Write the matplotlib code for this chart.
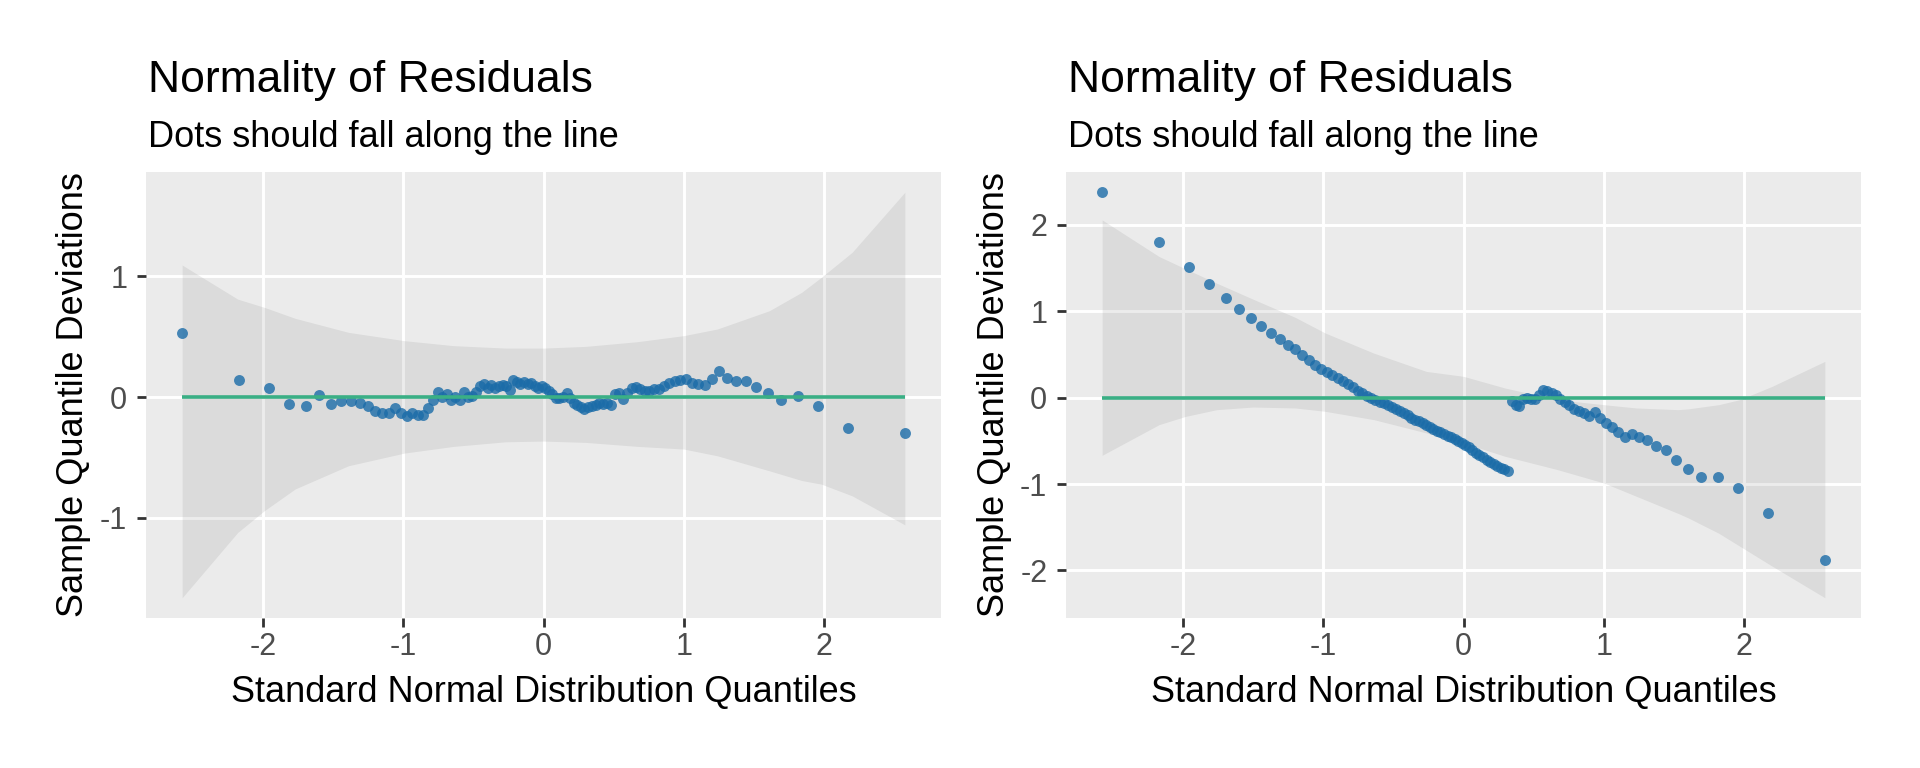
import matplotlib
matplotlib.use('Agg')
import matplotlib.pyplot as plt
from matplotlib.ticker import MultipleLocator

plt.rcParams['font.family'] = ['Liberation Sans', 'DejaVu Sans']
plt.rcParams['axes.unicode_minus'] = False

#-------------------------------------------------------------------------------
#DATA

#theoretical normal quantiles of the 100 residuals (same for both panels)
xq = [-2.576, -2.170, -1.960, -1.812, -1.695, -1.598, -1.514, -1.440, -1.372, -1.311,
      -1.254, -1.200, -1.150, -1.103, -1.058, -1.015, -0.974, -0.935, -0.896, -0.860,
      -0.824, -0.789, -0.755, -0.722, -0.690, -0.659, -0.628, -0.598, -0.568, -0.539,
      -0.510, -0.482, -0.454, -0.426, -0.399, -0.372, -0.345, -0.319, -0.292, -0.266,
      -0.240, -0.215, -0.189, -0.164, -0.138, -0.113, -0.088, -0.063, -0.038, -0.013,
      0.013, 0.038, 0.063, 0.088, 0.113, 0.138, 0.164, 0.189, 0.215, 0.240,
      0.266, 0.292, 0.319, 0.345, 0.372, 0.399, 0.426, 0.454, 0.482, 0.510,
      0.539, 0.568, 0.598, 0.628, 0.659, 0.690, 0.722, 0.755, 0.789, 0.824,
      0.860, 0.896, 0.935, 0.974, 1.015, 1.058, 1.103, 1.150, 1.200, 1.254,
      1.311, 1.372, 1.440, 1.514, 1.598, 1.695, 1.812, 1.960, 2.170, 2.576]

#sample quantile deviations, left model
dev_left = [0.527, 0.138, 0.072, -0.061, -0.072, 0.014, -0.058, -0.033, -0.033, -0.047,
            -0.072, -0.119, -0.135, -0.135, -0.094, -0.135, -0.160, -0.135, -0.149, -0.149,
            -0.094, -0.022, 0.039, 0.003, 0.025, -0.022, 0.003, -0.022, 0.039, 0.003,
            0.011, 0.039, 0.088, 0.108, 0.072, 0.099, 0.072, 0.094, 0.099, 0.088,
            0.061, 0.141, 0.127, 0.105, 0.127, 0.110, 0.113, 0.094, 0.077, 0.094,
            0.072, 0.052, 0.025, -0.006, -0.011, 0.003, 0.030, -0.011, -0.047, -0.066,
            -0.086, -0.099, -0.086, -0.077, -0.063, -0.052, -0.058, -0.050, -0.066, 0.025,
            0.030, -0.017, 0.033, 0.072, 0.083, 0.066, 0.052, 0.052, 0.066, 0.066,
            0.088, 0.113, 0.130, 0.141, 0.146, 0.116, 0.105, 0.097, 0.149, 0.218,
            0.154, 0.132, 0.130, 0.080, 0.033, -0.028, 0.011, -0.077, -0.259, -0.301]

#sample quantile deviations, right model
dev_right = [2.378, 1.800, 1.518, 1.314, 1.156, 1.025, 0.917, 0.829, 0.748, 0.678,
             0.613, 0.563, 0.497, 0.439, 0.382, 0.331, 0.297, 0.262, 0.227, 0.189,
             0.154, 0.119, 0.081, 0.050, 0.015, -0.005, -0.026, -0.046, -0.066, -0.085,
             -0.104, -0.126, -0.152, -0.179, -0.205, -0.230, -0.253, -0.275, -0.297, -0.318,
             -0.340, -0.360, -0.381, -0.401, -0.423, -0.441, -0.459, -0.477, -0.499, -0.522,
             -0.546, -0.576, -0.606, -0.636, -0.666, -0.692, -0.718, -0.744, -0.768, -0.789,
             -0.810, -0.831, -0.853, -0.040, -0.080, -0.100, -0.010, 0.000, -0.020, -0.010,
             0.030, 0.085, 0.080, 0.050, 0.030, -0.010, -0.050, -0.085, -0.130, -0.155,
             -0.180, -0.215, -0.170, -0.235, -0.290, -0.345, -0.400, -0.455, -0.420, -0.450,
             -0.495, -0.555, -0.600, -0.720, -0.825, -0.920, -0.920, -1.045, -1.335, -1.885]

#confidence band, left model
band_x_left = [-2.576, -2.18, -1.99, -1.77, -1.39, -0.99, -0.64, -0.27, 0.0, 0.30,
               0.67, 1.0, 1.24, 1.61, 1.84, 1.98, 2.20, 2.576]
band_hi_left = [1.092, 0.810, 0.742, 0.651, 0.535, 0.466, 0.425, 0.405, 0.405, 0.419,
                0.458, 0.508, 0.563, 0.714, 0.866, 0.990, 1.197, 1.694]
band_lo_left = [-1.660, -1.120, -0.940, -0.760, -0.568, -0.463, -0.408, -0.370, -0.364, -0.375,
                -0.408, -0.430, -0.486, -0.610, -0.690, -0.720, -0.817, -1.057]

#confidence band, right model
band_x_right = [-2.576, -2.17, -1.98, -1.76, -1.50, -1.20, -0.985, -0.64, -0.265, 0.0,
                0.295, 0.668, 1.0, 1.23, 1.53, 1.60, 1.82, 1.97, 2.20, 2.576]
band_hi_right = [2.058, 1.634, 1.490, 1.326, 1.140, 0.930, 0.748, 0.516, 0.304, 0.247,
                 0.112, -0.023, -0.081, -0.119, -0.139, -0.130, -0.081, -0.023, 0.131, 0.420]
band_lo_right = [-0.667, -0.312, -0.216, -0.139, -0.108, -0.119, -0.158, -0.254, -0.408, -0.524,
                 -0.678, -0.832, -0.987, -1.140, -1.340, -1.390, -1.570, -1.720, -1.950, -2.316]

title = 'Normality of Residuals'
subtitle = 'Dots should fall along the line'
xlab = 'Standard Normal Distribution Quantiles'
ylab = 'Sample Quantile Deviations'

#-------------------------------------------------------------------------------
#PLOT

W, H = 1920, 768
fig = plt.figure(figsize=(W/100, H/100), dpi=100)

panels = [
    (146, dev_left, band_x_left, band_hi_left, band_lo_left, [-1, 0, 1]),
    (1066, dev_right, band_x_right, band_hi_right, band_lo_right, [-2, -1, 0, 1, 2]),
]
ptop, pbot, pw = 172, 618, 795

for left, dev, bx, bhi, blo, yt in panels:
    ax = fig.add_axes([left/W, 1 - pbot/H, pw/W, (pbot - ptop)/H])
    ax.set_facecolor('#EBEBEB')
    for s in ax.spines.values():
        s.set_visible(False)

    ax.fill_between(bx, blo, bhi, color='#808080', alpha=0.15, linewidth=0, zorder=2)
    ax.scatter(xq, dev, s=62, color='#1b6ca8', alpha=0.8, linewidths=0, zorder=3)
    ax.plot([xq[0], xq[-1]], [0, 0], color='#3aaf85', linewidth=2.6, zorder=4,
            solid_capstyle='butt')

    ax.margins(0.05)
    ax.xaxis.set_major_locator(MultipleLocator(1))
    ax.set_yticks(yt)
    ax.grid(True, color='white', linewidth=2.1, zorder=1)
    ax.set_axisbelow(True)
    ax.tick_params(length=6.5, width=2, color='#333333', labelsize=22,
                   labelcolor='#4D4D4D')
    ax.tick_params(axis='x', pad=3.5)
    ax.tick_params(axis='y', pad=7)

    ax.set_xlabel(xlab, fontsize=26, va='baseline')
    ax.xaxis.set_label_coords(0.5, (pbot - 702)/(pbot - ptop))
    ax.set_ylabel(ylab, fontsize=26, va='center')
    ax.yaxis.set_label_coords(-72/pw, 0.5)

    fig.text((left + 2)/W, 1 - 92/H, title, fontsize=32, va='baseline', ha='left')
    fig.text((left + 2)/W, 1 - 147/H, subtitle, fontsize=26, va='baseline', ha='left')

fig.savefig('out.png', dpi=100)
